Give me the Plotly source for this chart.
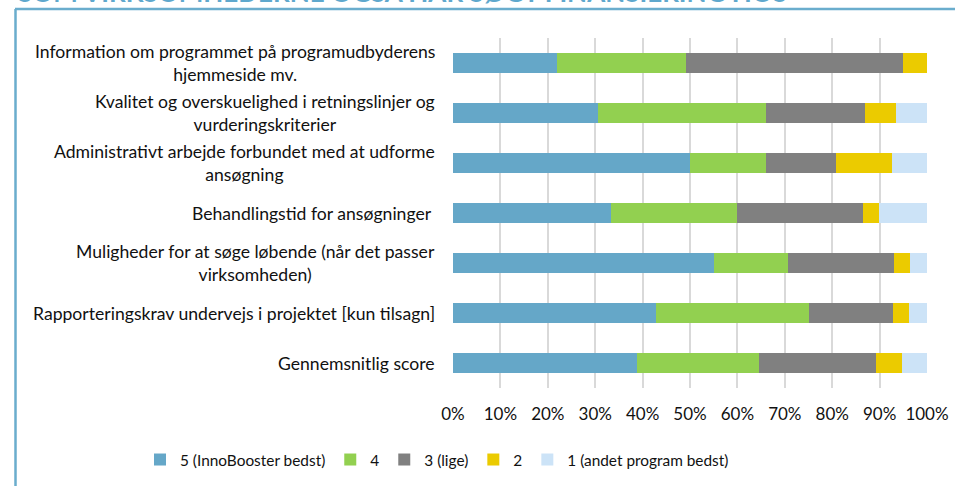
import plotly.graph_objects as go

categories = [
    "Information om programmet på programudbyderens<br>hjemmeside mv.",
    "Kvalitet og overskuelighed i retningslinjer og<br>vurderingskriterier",
    "Administrativt arbejde forbundet med at udforme<br>ansøgning",
    "Behandlingstid for ansøgninger\u00a0",
    "Muligheder for at søge løbende (når det passer<br>virksomheden)",
    "Rapporteringskrav undervejs i projektet [kun tilsagn]",
    "Gennemsnitlig score",
]

series_names = ["5 (InnoBooster bedst)", "4", "3 (lige)", "2", "1 (andet program bedst)"]
s5 = [22.0, 30.6, 50.0, 33.3, 55.1, 42.8, 38.9]
s4 = [27.1, 35.5, 16.1, 26.7, 15.6, 32.2, 25.7]
s3 = [45.8, 20.9, 14.7, 26.6, 22.3, 17.8, 24.6]
s2 = [5.1, 6.5, 11.8, 3.3, 3.4, 3.5, 5.5]
s1 = [0.0, 6.5, 7.4, 10.1, 3.6, 3.7, 5.3]
series_values = [s5, s4, s3, s2, s1]
colors = ["#65A7C8", "#92D050", "#808080", "#EBCB00", "#CCE3F7"]

tick_vals = [0, 10, 20, 30, 40, 50, 60, 70, 80, 90, 100]
tick_text = ["0%", "10%", "20%", "30%", "40%", "50%", "60%", "70%", "80%", "90%", "100%"]

title_text = "SOM VIRKSOMHEDERNE OGSÅ HAR SØGT FINANSIERING HOS"

FONT = "Lato"
TXT = "#111111"

# pixel geometry of the page (955 x 486)
L, R, T, B = 453, 927, 38, 388
PW, PH = R - L, B - T


def px_x(p):
    return (p - L) / PW


def px_y(p):
    return (B - p) / PH


fig = go.Figure()
for name, vals, col in zip(series_names, series_values, colors):
    fig.add_trace(go.Bar(
        y=categories, x=vals, name=name, orientation="h",
        marker=dict(color=col, line=dict(width=0)),
        width=0.4,
    ))

for c in categories:
    fig.add_annotation(
        x=0, xref="paper", y=c, yref="y", text=c,
        xanchor="right", yanchor="middle", align="center",
        xshift=-16, showarrow=False,
        font=dict(family=FONT, size=17.6, color=TXT),
    )

# partially cut-off heading at the top of the page
fig.add_annotation(
    x=px_x(16), xref="paper", y=px_y(10), yref="paper", text="<b>" + title_text + "</b>",
    showarrow=False, xanchor="left", yanchor="bottom",
    font=dict(family=FONT, size=26, color="#5FA8CD"),
)

# frame lines of the surrounding text box
fig.add_shape(type="line", xref="paper", yref="paper", x0=px_x(15), x1=px_x(960),
              y0=px_y(9), y1=px_y(9), line=dict(color="#6AADCD", width=2.5))
fig.add_shape(type="line", xref="paper", yref="paper", x0=px_x(15.5), x1=px_x(15.5),
              y0=px_y(9), y1=px_y(490), line=dict(color="#6AADCD", width=2.5))

fig.update_layout(
    width=955, height=486, autosize=False,
    margin=dict(l=L, r=955 - R, t=T, b=486 - B, autoexpand=False),
    paper_bgcolor="white", plot_bgcolor="white",
    barmode="stack",
    font=dict(family=FONT, size=17, color=TXT),
    showlegend=True,
    legend=dict(orientation="h", x=px_x(140), xanchor="left", y=px_y(460), yanchor="middle",
                font=dict(family=FONT, size=15.4, color=TXT),
                itemwidth=30, traceorder="normal", bgcolor="rgba(0,0,0,0)"),
    xaxis=dict(range=[0, 100], tickmode="array", tickvals=tick_vals, ticktext=tick_text,
               showgrid=True, gridcolor="#D9D9D9", gridwidth=1.5,
               zeroline=False, showline=False, ticks="", ticklabelstandoff=14,
               fixedrange=True),
    yaxis=dict(categoryorder="array", categoryarray=categories, autorange="reversed",
               showticklabels=False, showgrid=False, zeroline=False, showline=False,
               ticks="", fixedrange=True),
)

fig.write_html("out.html", config={"displayModeBar": False},
               post_script="document.body.style.margin='0px';document.body.style.padding='0px';")
